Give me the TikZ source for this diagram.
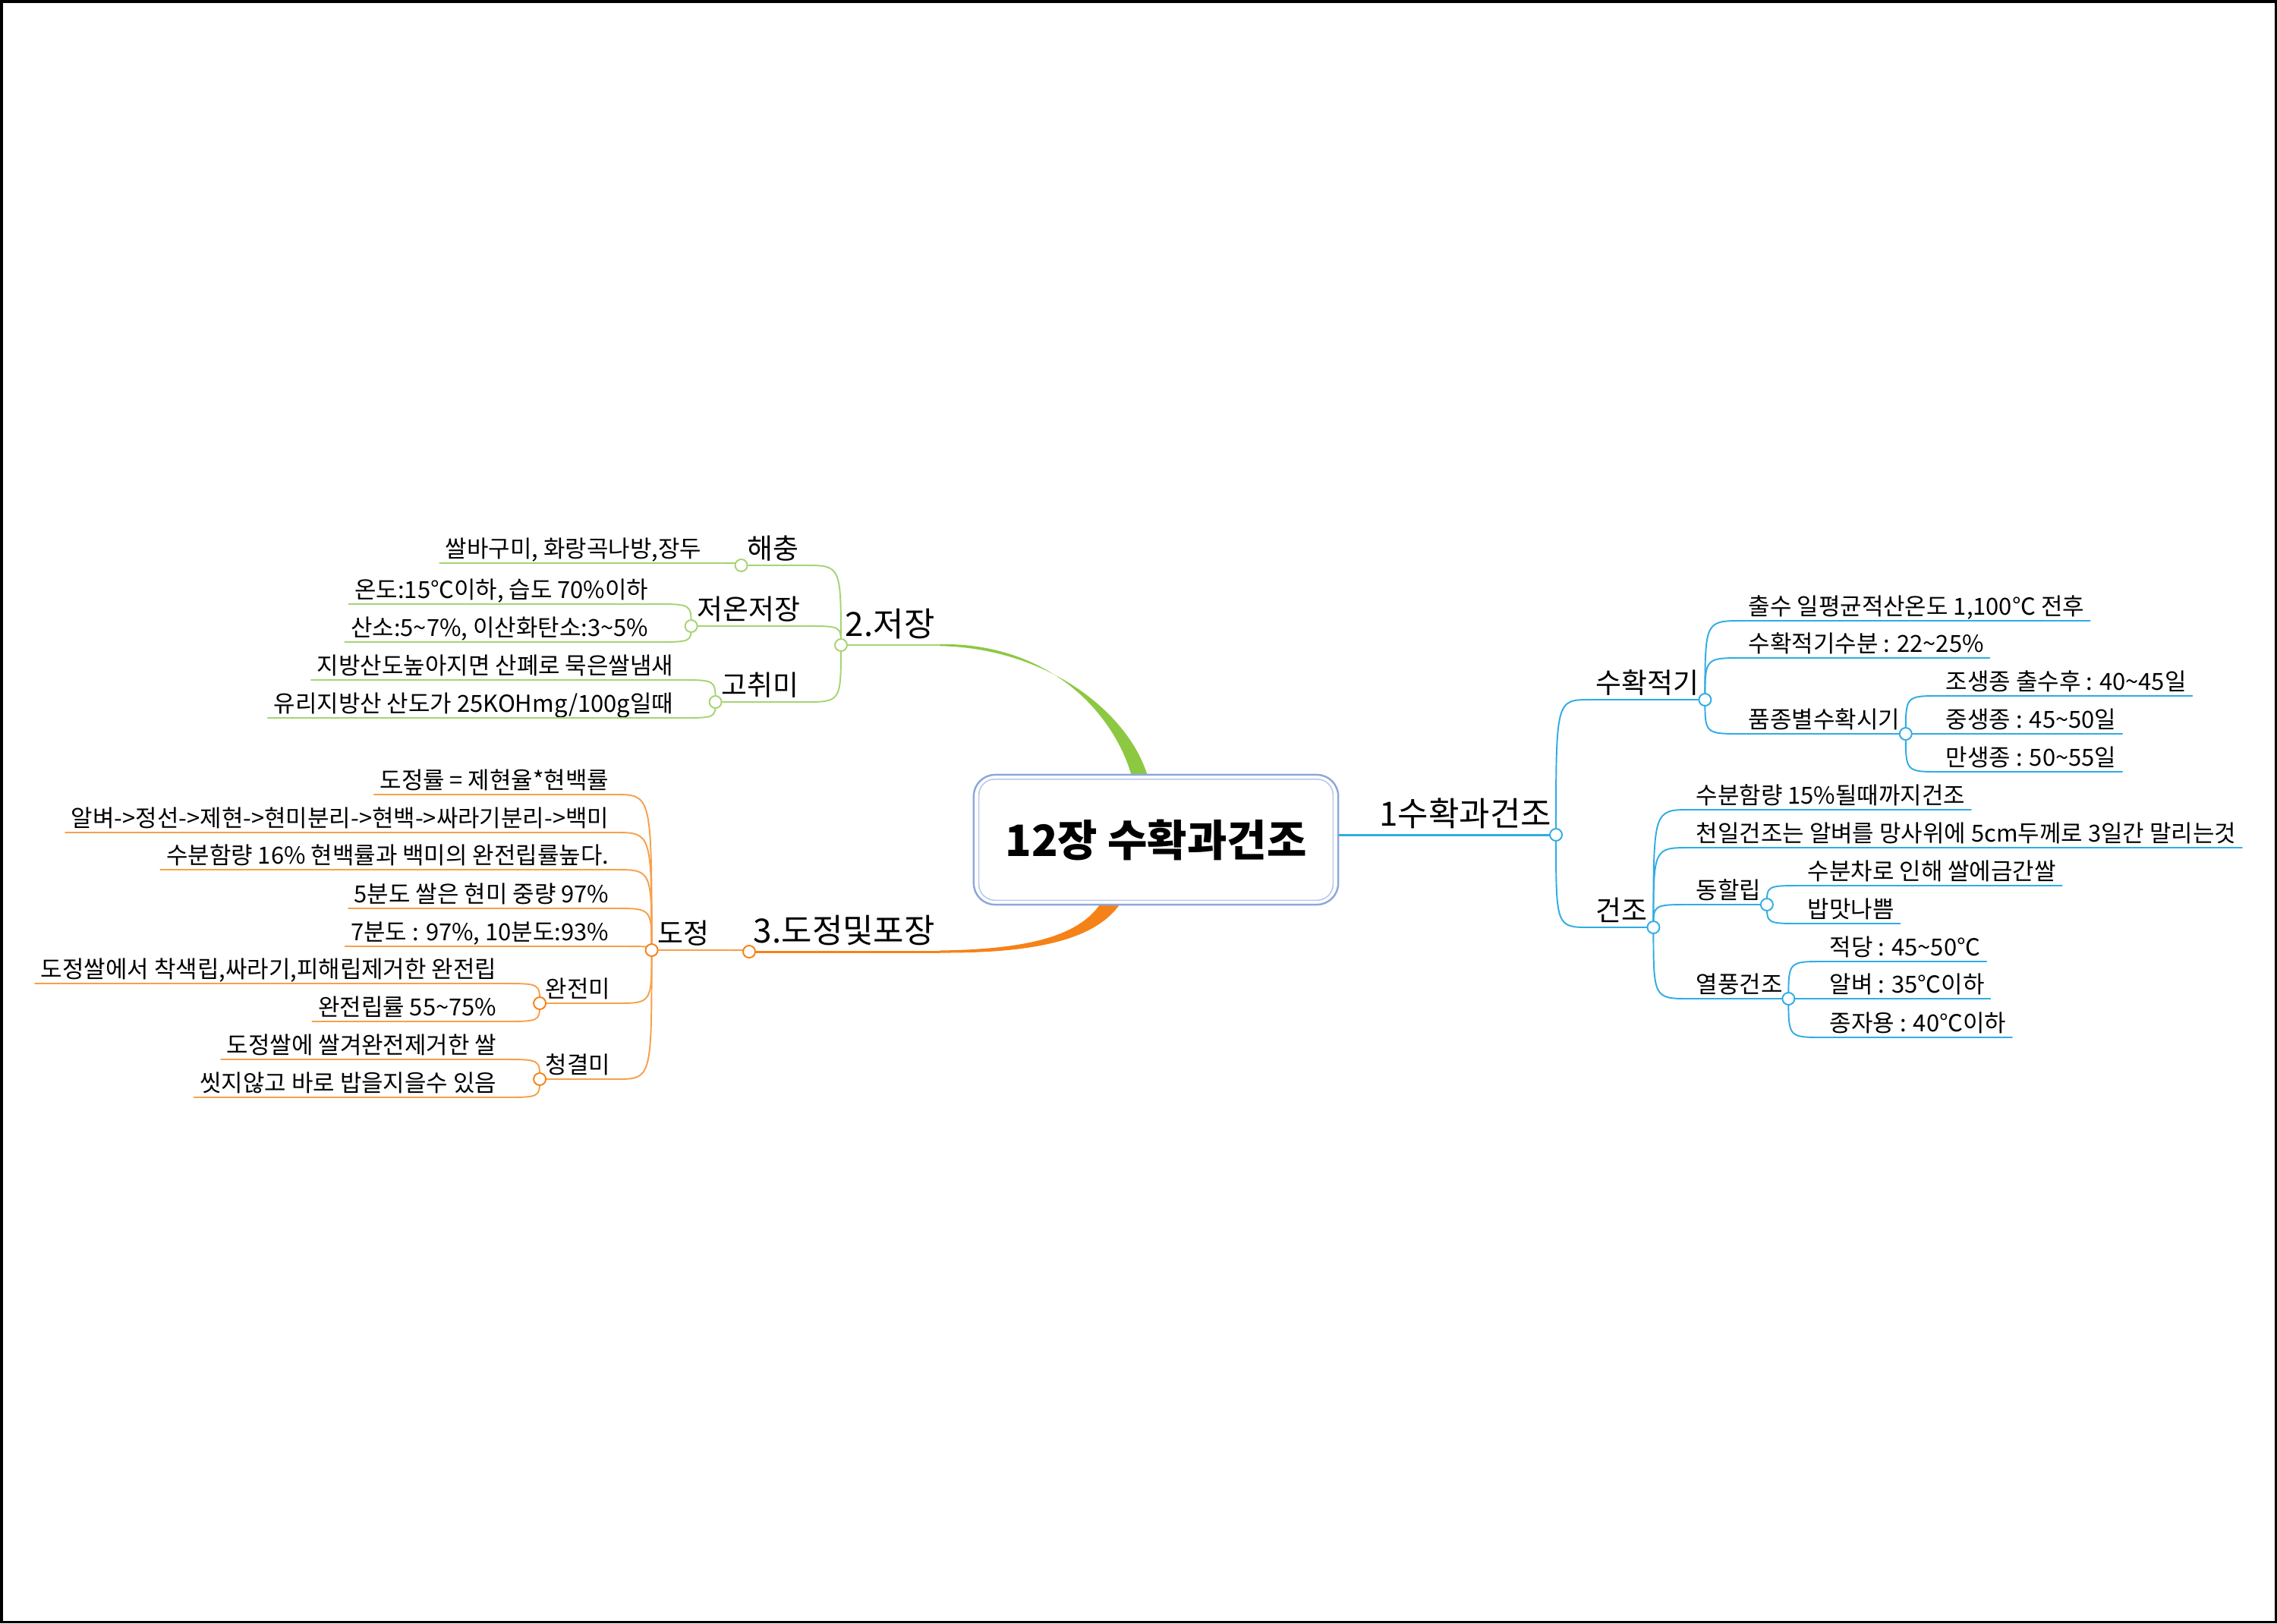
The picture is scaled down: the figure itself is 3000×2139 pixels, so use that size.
\documentclass[tikz,border=0pt]{standalone}
\usepackage{fontspec}
\setmainfont{Noto Sans CJK KR}
\usetikzlibrary{calc}
\definecolor{skyln}{RGB}{48,172,228}
\definecolor{leafgrn}{RGB}{165,212,115}
\definecolor{stemgrn}{RGB}{141,200,66}
\definecolor{leaforg}{RGB}{247,160,75}
\definecolor{stemorg}{RGB}{245,130,25}
\definecolor{boxout}{RGB}{140,168,220}
\definecolor{boxin}{RGB}{185,202,234}
\newcommand{\tfT}{\fontsize{16.2pt}{18pt}\selectfont\bfseries}
\newcommand{\tfA}{\fontsize{12.5pt}{14pt}\selectfont}
\newcommand{\tfB}{\fontsize{10.5pt}{12pt}\selectfont}
\newcommand{\tfC}{\fontsize{8.8pt}{10pt}\selectfont}
\newcommand{\tl}{\textasciitilde}
\pgfdeclarelayer{bg}
\pgfsetlayers{bg,main}
\tikzset{
  topicA/.style={font=\tfA, inner xsep=1.5pt, inner ysep=3.1pt, text depth=0pt},
  topicB/.style={font=\tfB, inner xsep=2pt, inner ysep=2.2pt, text depth=0pt},
  leaf/.style={font=\tfC, inner xsep=2pt, inner ysep=1.8pt, text depth=0pt},
  twig/.style={line width=0.55pt, line cap=round},
  knob/.style={fill=white, line width=0.55pt},
}

\begin{document}
\begin{tikzpicture}[x=0.01cm,y=-0.01cm]
   \useasboundingbox (0,0) rectangle (3000,2139);
   \draw[line width=1pt] (1.75,1.75) rectangle (2998.25,2137.25);

   % centre
   \node[draw=boxout, line width=0.7pt, rounded corners=8pt, fill=white,
         minimum width=4.8cm, minimum height=1.71cm, font=\tfT] (title) at (1523,1106.5) {12장 수확과건조};
   \draw[boxin, line width=0.45pt, rounded corners=6pt]
     ($(title.north west)+(8,7)$) rectangle ($(title.south east)+(-8,-7)$);

   % 1수확과건조
   \begin{scope}
    \coordinate (c1) at (2050,1100);
    \node[topicA, anchor=south east] (b1) at (c1) {1수확과건조};
    \draw[skyln, line width=0.85pt] (title.east |- c1) -- (c1);
    \node[topicB, anchor=south west] (b11) at (2095,922) {수확적기};
    \node[topicB, anchor=south west] (b12) at (2095,1222) {건조};
    \coordinate (c11) at (b11.south east);
    \coordinate (c12) at (b12.south east);
    \node[leaf, anchor=south west] (b111) at (2296,818) {출수 일평균적산온도 1,100℃ 전후};
    \node[leaf, anchor=south west] (b112) at (2296,867) {수확적기수분 : 22\tl25\%};
    \node[leaf, anchor=south west] (b113) at (2296,967) {품종별수확시기};
    \coordinate (c113) at (b113.south east);
    \node[leaf, anchor=south west] (b1131) at (2556,917) {조생종 출수후 : 40\tl45일};
    \node[leaf, anchor=south west] (b1132) at (2556,967) {중생종 : 45\tl50일};
    \node[leaf, anchor=south west] (b1133) at (2556,1017) {만생종 : 50\tl55일};
    \node[leaf, anchor=south west] (b121) at (2227,1067) {수분함량 15\%될때까지건조};
    \node[leaf, anchor=south west] (b122) at (2227,1117) {천일건조는 알벼를 망사위에 5cm두께로 3일간 말리는것};
    \node[leaf, anchor=south west] (b123) at (2227,1192) {동할립};
    \node[leaf, anchor=south west] (b124) at (2227,1316) {열풍건조};
    \coordinate (c123) at (b123.south east);
    \coordinate (c124) at (b124.south east);
    \node[leaf, anchor=south west] (b1231) at (2374,1167) {수분차로 인해 쌀에금간쌀};
    \node[leaf, anchor=south west] (b1232) at (2374,1217) {밥맛나쁨};
    \node[leaf, anchor=south west] (b1241) at (2403,1267) {적당 : 45\tl50℃};
    \node[leaf, anchor=south west] (b1242) at (2403,1316) {알벼 : 35℃이하};
    \node[leaf, anchor=south west] (b1243) at (2403,1367) {종자용 : 40℃이하};
    \foreach \p/\c in {c1/b11,c1/b12,c11/b111,c11/b112,c11/b113,c113/b1131,c113/b1132,c113/b1133,
                       c12/b121,c12/b122,c12/b123,c12/b124,c123/b1231,c123/b1232,c124/b1241,c124/b1242,c124/b1243}
      \draw[twig,skyln] (\p) .. controls (\p |- \c.south west) .. (\c.south west) -- (\c.south east);
    \foreach \c in {c1,c11,c12,c113,c123,c124}
      \draw[knob,draw=skyln] (\c) circle[radius=8];
   \end{scope}

   % 2.저장
   \begin{scope}
    \coordinate (c2) at (1108,850);
    \node[topicA, anchor=south west] (g1) at (c2) {2.저장};
    \node[topicB, anchor=south east] (g11) at (1060,745) {해충};
    \node[topicB, anchor=south east] (g12) at (1062,825) {저온저장};
    \node[topicB, anchor=south east] (g13) at (1060,925) {고취미};
    \coordinate (c21) at (g11.south west);
    \coordinate (c22) at (g12.south west);
    \coordinate (c23) at (g13.south west);
    \node[leaf, anchor=south east] (g111) at (932,742) {쌀바구미, 화랑곡나방,장두};
    \node[leaf, anchor=south east] (g121) at (862,796) {온도:15℃이하, 습도 70\%이하};
    \node[leaf, anchor=south east] (g122) at (862,846) {산소:5\tl7\%, 이산화탄소:3\tl5\%};
    \node[leaf, anchor=south east] (g131) at (895,896) {지방산도높아지면 산폐로 묵은쌀냄새};
    \node[leaf, anchor=south east] (g132) at (895,946) {유리지방산 산도가 25KOHmg/100g일때};
    \begin{pgfonlayer}{bg}
     \fill[stemgrn] ($(g1.south east)+(0,-1)$) .. controls (1380,846) and (1470,938) .. (1493,1030)
       -- (1514,1030) .. controls (1494,946) and (1386,854) .. ($(g1.south east)+(0,1.2)$) -- cycle;
    \end{pgfonlayer}
    \draw[leafgrn, line width=0.7pt] (c2) -- (g1.south east);
    \foreach \p/\c in {c2/g11,c2/g12,c2/g13,c21/g111,c22/g121,c22/g122,c23/g131,c23/g132}
      \draw[twig,leafgrn] (\p) .. controls (\p |- \c.south east) .. (\c.south east) -- (\c.south west);
    \foreach \c in {c2,c21,c22,c23}
      \draw[knob,draw=leafgrn] (\c) circle[radius=8];
   \end{scope}

   % 3.도정및포장
   \begin{scope}
    \coordinate (c3) at (987,1254);
    \node[topicA, anchor=south west] (o1) at (c3) {3.도정및포장};
    \node[topicB, anchor=south east] (o11) at (942,1252) {도정};
    \coordinate (c31) at (o11.south west);
    \node[leaf, anchor=south east] (o111) at (810,1047) {도정률 = 제현율*현백률};
    \node[leaf, anchor=south east] (o112) at (810,1097) {알벼->정선->제현->현미분리->현백->싸라기분리->백미};
    \node[leaf, anchor=south east] (o113) at (810,1146) {수분함량 16\% 현백률과 백미의 완전립률높다.};
    \node[leaf, anchor=south east] (o114) at (810,1197) {5분도 쌀은 현미 중량 97\%};
    \node[leaf, anchor=south east] (o115) at (810,1247) {7분도 : 97\%, 10분도:93\%};
    \node[leaf, anchor=south east] (o116) at (812,1322) {완전미};
    \node[leaf, anchor=south east] (o117) at (812,1422) {청결미};
    \coordinate (c316) at (o116.south west);
    \coordinate (c317) at (o117.south west);
    \node[leaf, anchor=south east] (o1161) at (662,1296) {도정쌀에서 착색립,싸라기,피해립제거한 완전립};
    \node[leaf, anchor=south east] (o1162) at (662,1346) {완전립률 55\tl75\%};
    \node[leaf, anchor=south east] (o1171) at (662,1396) {도정쌀에 쌀겨완전제거한 쌀};
    \node[leaf, anchor=south east] (o1172) at (662,1446) {씻지않고 바로 밥을지을수 있음};
    \begin{pgfonlayer}{bg}
     \fill[stemorg] ($(o1.south east)+(0,-1.5)$) .. controls (1350,1251) and (1430,1235) .. (1456,1180)
       -- (1482,1180) .. controls (1452,1243) and (1350,1256) .. ($(o1.south east)+(0,1.5)$) -- cycle;
    \end{pgfonlayer}
    \draw[stemorg, line width=0.85pt] (c3) -- (o1.south east);
    \foreach \p/\c in {c3/o11,c31/o111,c31/o112,c31/o113,c31/o114,c31/o115,c31/o116,c31/o117,
                       c316/o1161,c316/o1162,c317/o1171,c317/o1172}
      \draw[twig,leaforg] (\p) .. controls (\p |- \c.south east) .. (\c.south east) -- (\c.south west);
    \foreach \c in {c3,c31,c316,c317}
      \draw[knob,draw=stemorg] (\c) circle[radius=8];
   \end{scope}
\end{tikzpicture}
\end{document}
